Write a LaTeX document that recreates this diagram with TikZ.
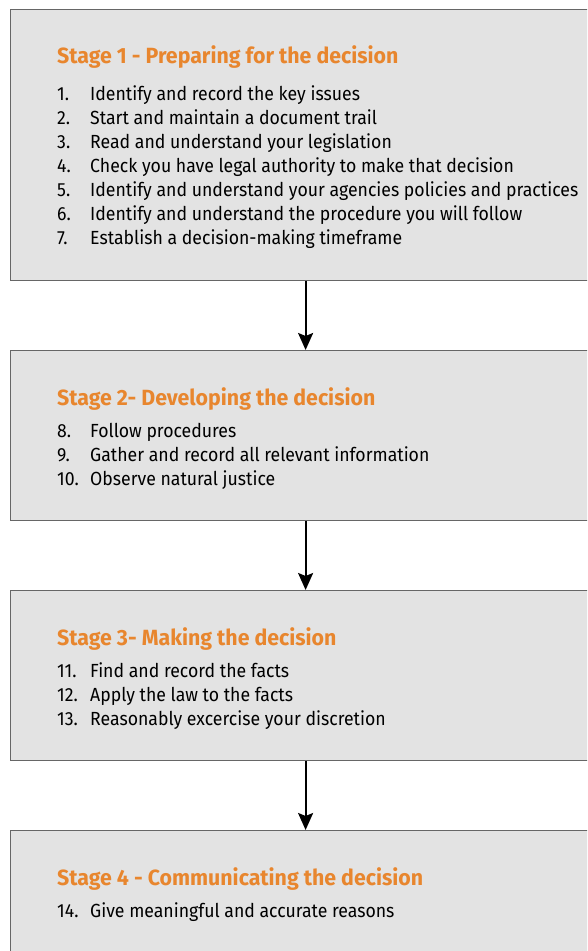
\documentclass[tikz,border=0pt]{standalone}
\usepackage{fontspec}
\setmainfont{Fira Sans}[FakeStretch=0.93, BoldFeatures={FakeStretch=0.97}]
\usetikzlibrary{calc, arrows.meta}

\definecolor{boxgrey}{HTML}{E3E3E3}
\definecolor{boxline}{HTML}{666666}
\definecolor{stageorange}{HTML}{E8862E}

\begin{document}
\begin{tikzpicture}[
    x=1pt, y=1pt,
    sbox/.style={draw=boxline, fill=boxgrey, line width=1.2pt, minimum width=590pt, inner sep=0pt, anchor=north west},
    ttl/.style={font=\fontsize{22}{24}\selectfont\bfseries, text=stageorange, inner sep=0pt, anchor=base west},
    itm/.style={font=\fontsize{19}{24}\selectfont, inner sep=0pt, anchor=base west},
    flow/.style={-{Stealth[length=17pt, width=15pt, inset=3pt]}, line width=2pt},
]
\clip (0,0) rectangle (587,-951);
\fill[white] (0,0) rectangle (587,-951);

% === Stage 1 ===
\node[sbox, minimum height=271pt] (stage1) at (10,-9) {};
\node[ttl] (t1) at ($(stage1.north west) + (47,-54)$) {Stage 1 - Preparing for the decision};
\node[itm] (i1) at ($(t1.base west) + (0,-37)$) {\makebox[33pt][l]{1.}Identify and record the key issues};
\node[itm] (i2) at ($(i1.base west) + (0,-24)$) {\makebox[33pt][l]{2.}Start and maintain a document trail};
\node[itm] (i3) at ($(i2.base west) + (0,-24)$) {\makebox[33pt][l]{3.}Read and understand your legislation};
\node[itm] (i4) at ($(i3.base west) + (0,-24)$) {\makebox[33pt][l]{4.}Check you have legal authority to make that decision};
\node[itm] (i5) at ($(i4.base west) + (0,-24)$) {\makebox[33pt][l]{5.}Identify and understand your agencies policies and practices};
\node[itm] (i6) at ($(i5.base west) + (0,-24)$) {\makebox[33pt][l]{6.}Identify and understand the procedure you will follow};
\node[itm] (i7) at ($(i6.base west) + (0,-24)$) {\makebox[33pt][l]{7.}Establish a decision-making timeframe};

% === Stage 2 ===
\node[sbox, minimum height=170pt] (stage2) at (10,-350) {};
\node[ttl] (t2) at ($(stage2.north west) + (47,-55)$) {Stage 2- Developing the decision};
\node[itm] (i8) at ($(t2.base west) + (0,-32)$) {\makebox[33pt][l]{8.}Follow procedures};
\node[itm] (i9) at ($(i8.base west) + (0,-24)$) {\makebox[33pt][l]{9.}Gather and record all relevant information};
\node[itm] (i10) at ($(i9.base west) + (0,-24)$) {\makebox[33pt][l]{10.}Observe natural justice};

% === Stage 3 ===
\node[sbox, minimum height=170pt] (stage3) at (10,-590) {};
\node[ttl] (t3) at ($(stage3.north west) + (47,-55)$) {Stage 3- Making the decision};
\node[itm] (i11) at ($(t3.base west) + (0,-32)$) {\makebox[33pt][l]{11.}Find and record the facts};
\node[itm] (i12) at ($(i11.base west) + (0,-24)$) {\makebox[33pt][l]{12.}Apply the law to the facts};
\node[itm] (i13) at ($(i12.base west) + (0,-24)$) {\makebox[33pt][l]{13.}Reasonably excercise your discretion};

% === Stage 4 (runs off the page) ===
\node[sbox, minimum height=170pt] (stage4) at (10,-830) {};
\node[ttl] (t4) at ($(stage4.north west) + (47,-55)$) {Stage 4 - Communicating the decision};
\node[itm] (i14) at ($(t4.base west) + (0,-32)$) {\makebox[33pt][l]{14.}Give meaningful and accurate reasons};

% Arrows between stages
\draw[flow] (stage1.south) -- (stage2.north);
\draw[flow] (stage2.south) -- (stage3.north);
\draw[flow] (stage3.south) -- (stage4.north);
\end{tikzpicture}
\end{document}
